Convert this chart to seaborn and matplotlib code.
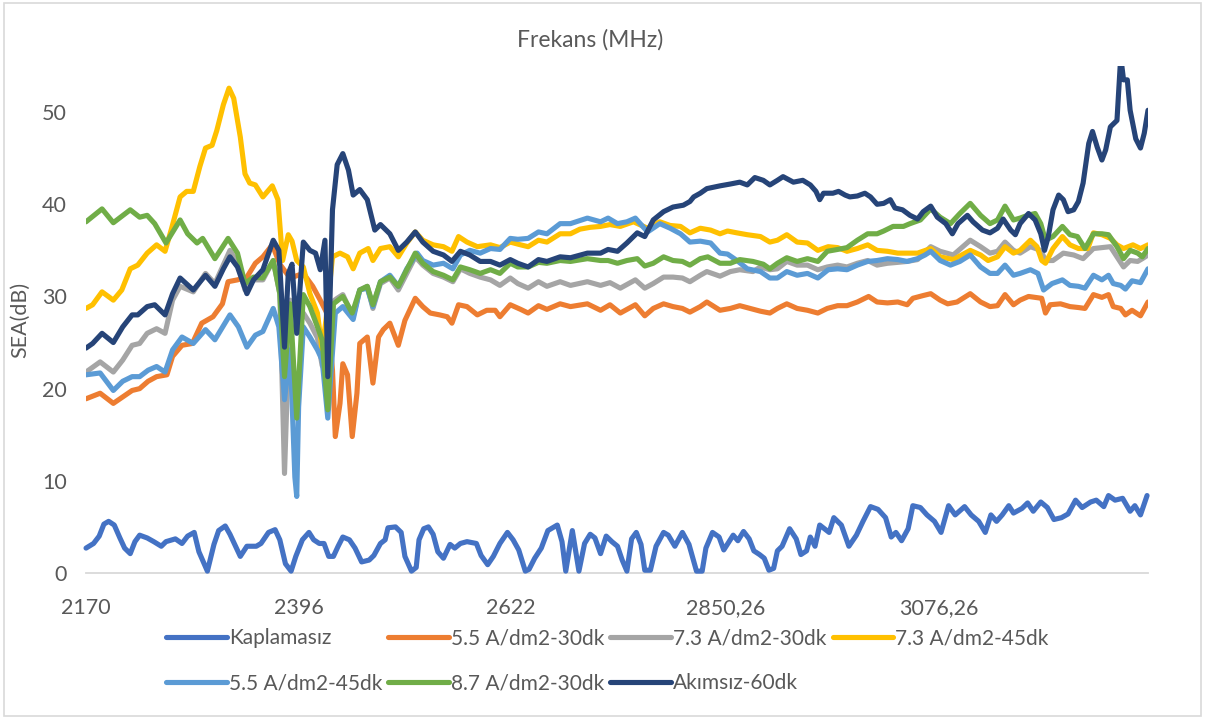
import matplotlib
matplotlib.use("Agg")
import matplotlib.pyplot as plt
import seaborn as sns
from matplotlib.patches import Rectangle

# ---------------- data ----------------
tick_values = [2170, 2396, 2622, 2850.26, 3076.26]
tick_labels = ["2170", "2396", "2622", "2850,26", "3076,26"]

f_kap = [2170,2178,2184,2189,2194,2200,2206,2211,2217,2222,
         2227,2235,2242,2250,2255,2265,2272,2278,2285,2290,
         2299,2306,2311,2318,2323,2328,2334,2341,2351,2356,
         2364,2371,2376,2382,2388,2393,2400,2407,2412,2418,
         2423,2428,2433,2438,2443,2450,2456,2463,2471,2476,
         2483,2488,2491,2499,2505,2509,2516,2521,2524,2529,
         2534,2539,2544,2550,2557,2562,2568,2575,2585,2590,
         2597,2603,2610,2618,2624,2630,2637,2641,2647,2654,
         2661,2671,2676,2680,2687,2694,2700,2706,2711,2717,
         2723,2729,2735,2740,2745,2750,2755,2760,2764,2770,
         2776,2784,2789,2796,2804,2811,2819,2825,2829,2836,
         2843,2848,2858,2863,2869,2875,2880,2886,2891,2896,
         2901,2905,2910,2918,2925,2930,2936,2940,2945,2950,
         2960,2965,2973,2981,2989,2996,3004,3012,3020,3026,
         3031,3037,3044,3049,3057,3064,3072,3079,3087,3094,
         3104,3111,3119,3126,3132,3138,3144,3151,3156,3165,
         3171,3177,3185,3192,3199,3207,3214,3222,3229,3238,
         3244,3252,3257,3264,3272,3280,3285,3291,3298]
v_kap = [2.7,3.2,4.0,5.3,5.6,5.2,3.8,2.7,2.1,3.4,
         4.1,3.8,3.4,2.9,3.4,3.7,3.2,4.0,4.4,2.3,
         0.2,3.1,4.6,5.1,4.2,3.1,1.8,2.9,2.9,3.2,
         4.4,4.7,3.6,1.0,0.2,1.8,3.6,4.4,3.6,3.2,
         3.2,1.8,1.8,2.9,3.9,3.6,2.7,1.2,1.4,1.9,
         3.2,3.6,4.9,5.0,4.4,1.8,0.2,0.6,3.6,4.8,
         5.0,4.2,2.3,1.6,3.1,2.7,3.2,3.4,3.2,1.9,
         0.9,1.8,3.2,4.4,3.6,2.5,0.2,0.4,1.6,2.7,
         4.6,5.2,3.4,0.2,4.6,0.2,3.2,4.2,3.8,2.1,
         4.0,3.4,2.9,1.4,0.2,3.7,4.4,3.1,0.3,0.3,
         2.9,4.4,4.1,2.9,4.4,3.1,0.2,0.2,2.7,4.4,
         3.9,2.5,4.1,3.5,4.5,3.7,2.4,2.0,1.6,0.3,
         0.5,2.4,2.9,4.8,3.7,2.0,2.4,3.9,2.9,5.2,
         4.4,6.0,5.2,2.9,4.1,5.6,7.2,6.9,6.0,3.9,
         4.4,3.5,4.8,7.3,7.1,6.3,5.6,4.4,7.3,6.3,
         7.2,6.3,5.6,4.4,6.3,5.6,6.3,7.3,6.5,7.0,
         7.6,6.7,7.7,7.1,5.8,6.0,6.4,7.9,7.1,7.7,
         7.9,7.2,8.4,7.9,8.1,6.7,7.3,6.3,8.4]

f_55_30 = [2170,2185,2199,2209,2219,2227,2236,2245,2256,2262,
           2272,2283,2293,2305,2315,2321,2331,2341,2350,2358,
           2368,2376,2387,2401,2411,2419,2427,2432,2435,2440,
           2443,2448,2453,2458,2461,2469,2475,2481,2486,2493,
           2502,2509,2520,2528,2536,2546,2554,2559,2566,2575,
           2586,2596,2605,2610,2621,2632,2640,2651,2660,2674,
           2685,2703,2717,2727,2738,2754,2764,2773,2784,2794,
           2804,2812,2823,2830,2844,2855,2865,2876,2887,2897,
           2905,2915,2926,2937,2948,2958,2969,2979,2990,3002,
           3011,3022,3033,3043,3049,3060,3068,3078,3086,3096,
           3110,3121,3131,3139,3147,3156,3163,3172,3179,3186,
           3190,3195,3206,3216,3225,3232,3241,3250,3257,3262,
           3270,3275,3282,3291,3299]
v_55_30 = [18.9,19.5,18.4,19.1,19.8,20.0,20.8,21.3,21.5,23.5,
           24.7,24.9,27.1,27.8,29.2,31.6,31.8,32.1,33.6,34.3,
           35.6,33.5,32.0,32.5,31.1,29.6,28.0,22.0,14.8,18.4,
           22.7,21.5,14.8,19.5,24.9,25.6,20.6,25.6,26.4,27.1,
           24.7,27.4,29.8,28.9,28.2,28.0,27.8,27.1,29.1,28.9,
           28.0,28.5,28.5,27.8,29.1,28.6,28.2,29.0,28.6,29.2,
           28.9,29.2,28.5,29.1,28.2,29.1,27.9,28.7,29.2,28.9,
           28.7,28.3,28.9,29.4,28.5,28.7,29.0,28.7,28.4,28.2,
           28.7,29.2,28.7,28.5,28.2,28.7,29.0,29.0,29.4,30.0,
           29.4,29.3,29.4,29.1,29.8,30.1,30.3,29.6,29.2,29.4,
           30.3,29.4,28.9,29.0,30.2,29.1,29.6,30.0,29.9,29.8,
           28.2,29.1,29.2,28.9,28.8,28.7,30.2,29.9,30.2,28.9,
           28.7,28.0,28.5,27.9,29.4]

f_73_30 = [2170,2185,2199,2209,2219,2227,2235,2245,2254,2262,
           2270,2284,2297,2307,2323,2331,2339,2348,2358,2369,
           2376,2381,2387,2394,2401,2408,2416,2421,2427,2433,
           2437,2443,2454,2461,2469,2475,2483,2493,2502,2511,
           2520,2528,2539,2550,2560,2568,2578,2589,2600,2610,
           2621,2629,2640,2651,2660,2674,2685,2703,2717,2727,
           2738,2754,2764,2773,2784,2794,2804,2812,2823,2830,
           2844,2855,2865,2879,2887,2897,2905,2915,2926,2937,
           2948,2958,2969,2979,2990,3001,3011,3022,3033,3043,
           3054,3068,3078,3092,3110,3121,3131,3139,3147,3156,
           3163,3174,3185,3190,3198,3209,3220,3230,3241,3250,
           3259,3266,3273,3280,3288,3293,3299]
v_73_30 = [21.8,22.9,21.8,23.1,24.7,24.9,26.0,26.5,26.0,29.6,
           31.1,30.5,32.5,31.4,35.0,33.6,30.7,31.8,31.8,33.9,
           30.3,10.8,29.6,28.5,28.2,27.1,25.5,22.5,21.7,29.5,
           29.8,30.2,27.8,30.7,31.1,28.7,31.4,32.0,30.7,32.5,
           34.3,33.4,32.5,32.1,31.6,33.0,32.5,32.1,31.8,31.2,
           32.0,31.4,30.9,31.6,31.1,31.6,31.2,31.6,31.2,31.5,
           30.9,31.8,30.9,31.4,32.1,32.1,32.0,31.6,32.3,32.7,
           32.2,32.7,32.9,32.7,33.2,32.9,33.0,33.8,33.4,33.4,
           32.9,33.2,33.4,33.2,33.6,33.9,33.4,33.6,33.7,33.8,
           34.0,35.4,34.9,34.5,36.1,35.4,34.7,34.9,35.9,35.0,
           34.7,35.4,35.0,33.9,33.9,34.7,34.5,34.1,35.2,35.3,
           35.4,34.3,33.2,33.9,33.8,34.1,34.5]

f_73_45 = [2170,2177,2187,2199,2208,2217,2225,2235,2245,2254,
           2261,2270,2277,2284,2291,2297,2304,2309,2316,2322,
           2327,2334,2339,2344,2350,2358,2368,2374,2379,2385,
           2389,2394,2401,2408,2416,2421,2426,2432,2440,2448,
           2454,2461,2470,2475,2483,2493,2502,2511,2520,2528,
           2539,2550,2559,2566,2575,2586,2600,2610,2621,2632,
           2640,2651,2660,2674,2685,2695,2706,2717,2727,2738,
           2752,2767,2780,2791,2802,2812,2823,2834,2844,2852,
           2862,2873,2887,2897,2905,2915,2926,2937,2948,2959,
           2969,2979,2990,3001,3011,3022,3033,3043,3054,3068,
           3078,3092,3110,3121,3129,3139,3147,3156,3163,3174,
           3181,3186,3190,3198,3208,3216,3225,3235,3241,3250,
           3259,3266,3273,3283,3291,3299]
v_73_45 = [28.7,29.1,30.5,29.6,30.7,33.0,33.4,34.7,35.6,34.9,
           37.4,40.8,41.4,41.4,44.1,46.1,46.4,48.0,50.8,52.6,
           51.5,47.3,43.3,42.3,42.1,40.8,42.0,40.5,33.9,36.7,
           36.0,33.9,33.2,30.3,28.2,24.2,28.2,34.3,34.7,34.3,
           33.0,34.7,35.2,33.9,35.2,35.4,34.3,35.8,37.0,36.1,
           35.6,35.4,34.9,36.5,35.9,35.4,35.6,35.3,35.9,35.6,
           35.4,36.1,35.9,36.8,36.8,37.3,37.5,37.6,37.8,37.6,
           38.1,37.4,38.1,37.7,37.6,36.9,37.4,37.2,36.8,37.1,
           36.9,36.7,36.5,35.9,36.1,36.7,35.9,35.8,35.0,35.4,
           35.3,34.9,35.2,35.6,35.0,34.9,34.7,34.7,34.7,35.2,
           34.3,34.0,35.0,34.5,33.9,34.3,35.4,34.7,35.0,36.1,
           35.4,33.9,33.6,35.2,36.5,35.6,35.2,35.2,36.9,36.7,
           36.3,35.6,35.2,35.6,35.2,35.6]

f_55_45 = [2170,2185,2199,2209,2219,2227,2236,2245,2254,2262,
           2272,2284,2297,2307,2323,2332,2341,2350,2358,2369,
           2375,2381,2387,2392,2394,2396,2401,2408,2416,2421,
           2427,2435,2443,2454,2461,2469,2475,2483,2493,2502,
           2511,2522,2528,2539,2550,2560,2568,2578,2589,2600,
           2610,2621,2629,2640,2651,2660,2674,2685,2703,2717,
           2725,2735,2745,2754,2767,2780,2791,2802,2812,2823,
           2834,2844,2852,2862,2873,2887,2897,2905,2915,2926,
           2937,2948,2959,2969,2979,2990,3001,3011,3022,3033,
           3043,3054,3062,3068,3078,3089,3099,3110,3121,3131,
           3139,3147,3156,3163,3174,3182,3188,3197,3208,3216,
           3225,3232,3241,3250,3257,3262,3270,3275,3282,3291,
           3299]
v_55_45 = [21.5,21.7,19.8,20.8,21.3,21.3,22.0,22.4,21.8,24.2,
           25.6,24.9,26.4,25.3,28.0,26.7,24.5,25.8,26.2,28.7,
           26.7,18.8,24.2,10.4,8.3,18.0,26.7,25.6,24.2,23.1,
           16.8,28.2,28.9,27.5,30.7,30.9,28.9,31.6,32.3,31.1,
           33.0,34.7,33.9,33.4,33.6,33.0,34.5,35.0,34.7,35.2,
           35.1,36.3,36.2,36.3,37.0,36.8,37.9,37.9,38.5,38.1,
           38.5,37.9,38.1,38.5,37.0,37.9,37.4,36.8,35.9,36.0,
           35.8,34.7,34.6,33.9,33.0,32.7,32.0,32.0,32.7,32.3,
           32.5,32.0,32.9,33.0,32.9,33.4,33.8,33.9,34.1,34.0,
           33.8,34.1,34.5,34.9,33.9,33.4,33.8,34.5,33.2,32.5,
           32.5,33.4,32.3,32.5,32.9,32.5,30.7,31.4,31.8,31.2,
           31.1,30.9,32.3,31.8,32.3,31.4,31.2,30.8,31.7,31.5,
           33.0]

f_87_30 = [2170,2187,2199,2217,2227,2235,2243,2255,2270,2278,
           2288,2294,2307,2321,2331,2339,2348,2358,2369,2376,
           2381,2387,2394,2401,2408,2416,2421,2427,2433,2443,
           2453,2461,2469,2475,2483,2493,2502,2511,2520,2528,
           2539,2550,2560,2568,2578,2589,2600,2610,2621,2629,
           2640,2651,2660,2674,2685,2703,2717,2725,2735,2745,
           2756,2764,2773,2784,2794,2804,2812,2823,2831,2844,
           2855,2865,2879,2890,2897,2905,2915,2926,2937,2948,
           2958,2969,2979,2990,3001,3011,3018,3028,3039,3046,
           3057,3068,3078,3089,3099,3110,3121,3131,3139,3147,
           3156,3163,3171,3179,3185,3190,3198,3208,3216,3224,
           3232,3241,3250,3257,3266,3273,3280,3288,3293,3299]
v_87_30 = [38.1,39.5,38.0,39.4,38.6,38.8,37.9,35.8,38.3,36.8,
           35.8,36.3,34.1,36.3,34.7,31.4,32.1,32.0,33.9,30.3,
           21.3,29.2,16.8,30.2,28.9,26.7,25.3,17.7,29.2,30.0,
           28.2,30.7,31.1,29.1,31.6,32.1,31.1,32.9,34.7,33.6,
           32.7,32.3,31.8,33.2,32.9,32.5,32.9,32.5,33.6,33.2,
           33.2,33.7,33.6,33.9,33.8,34.1,33.9,33.9,33.6,33.9,
           34.1,33.3,33.6,34.3,33.9,33.8,33.4,34.1,34.3,33.6,
           33.6,34.0,33.8,33.5,33.0,33.6,34.2,33.8,34.1,33.8,
           34.9,35.1,35.3,36.1,36.8,36.8,37.1,37.6,37.6,37.9,
           38.3,39.5,38.6,37.9,39.0,40.1,38.8,37.9,38.3,39.8,
           38.3,38.5,38.8,39.0,37.9,36.1,36.5,37.6,36.7,36.5,
           35.2,36.8,36.8,36.7,35.4,34.1,35.0,34.7,34.3,35.2]

f_akim = [2170,2177,2187,2199,2209,2219,2225,2235,2243,2254,
          2262,2270,2284,2297,2307,2316,2323,2331,2341,2348,
          2358,2369,2375,2381,2385,2389,2394,2401,2408,2414,
          2419,2424,2427,2432,2437,2443,2449,2454,2461,2469,
          2477,2483,2493,2502,2511,2520,2528,2539,2550,2559,
          2568,2578,2589,2600,2610,2621,2629,2640,2651,2660,
          2674,2685,2703,2717,2725,2735,2745,2756,2764,2773,
          2784,2794,2805,2812,2816,2823,2830,2844,2855,2865,
          2873,2881,2890,2897,2905,2911,2922,2932,2940,2946,
          2950,2954,2964,2970,2977,2982,2990,2998,3004,3011,
          3018,3025,3030,3038,3046,3054,3060,3068,3075,3084,
          3091,3097,3107,3113,3123,3131,3139,3145,3153,3158,
          3163,3172,3179,3185,3189,3193,3198,3204,3209,3214,
          3220,3225,3230,3236,3240,3245,3250,3254,3259,3266,
          3270,3273,3277,3280,3286,3291,3295,3299]
v_akim = [24.4,24.9,26.0,25.0,26.7,28.0,28.0,28.9,29.1,28.0,
          30.3,32.0,30.7,32.3,31.1,33.0,34.3,33.2,30.3,31.8,
          32.9,36.1,35.0,24.5,32.5,33.5,26.0,35.9,35.0,34.7,
          32.9,36.1,21.3,39.4,44.3,45.5,43.7,41.0,41.6,40.5,
          37.2,37.8,36.8,35.0,35.9,37.0,35.9,34.9,34.5,33.8,
          34.9,34.5,33.8,33.8,33.4,34.0,33.6,33.2,34.0,33.8,
          34.3,34.2,34.7,34.7,35.1,34.9,35.8,36.9,36.5,38.3,
          39.2,39.7,39.9,40.3,40.8,41.2,41.7,42.0,42.2,42.4,
          42.1,42.9,42.6,42.1,42.6,43.0,42.4,42.6,42.1,41.4,
          40.5,41.2,41.2,41.4,41.0,40.8,40.9,41.2,40.8,40.0,
          40.1,40.5,39.6,39.4,38.8,38.4,39.2,39.8,38.6,37.9,
          36.8,37.9,38.8,38.1,37.2,36.9,37.4,38.4,37.2,36.7,
          37.9,39.0,38.3,36.8,35.0,36.5,39.4,41.0,40.5,39.2,
          39.4,40.3,42.3,46.6,47.9,46.2,44.8,45.9,48.4,49.1,
          56.0,53.5,53.5,50.2,47.1,46.1,47.7,50.2]

series_names = ["Kaplamasız", "5.5 A/dm2-30dk", "7.3 A/dm2-30dk", "7.3 A/dm2-45dk",
                "5.5 A/dm2-45dk", "8.7 A/dm2-30dk", "Akımsız-60dk"]
series_freqs = [f_kap, f_55_30, f_73_30, f_73_45, f_55_45, f_87_30, f_akim]
series_vals = [v_kap, v_55_30, v_73_30, v_73_45, v_55_45, v_87_30, v_akim]
series_colors = ["#4472C4", "#ED7D31", "#A5A5A5", "#FFC000", "#5B9BD5", "#70AD47", "#264478"]

# ---------------- plotting ----------------
sns.set_theme(style="white")
plt.rcParams["font.family"] = ["Lato", "DejaVu Sans"]
TXT = "#595959"

fig = plt.figure(figsize=(12.05, 7.2), dpi=100)
ax = fig.add_axes([0.0714, 0.2042, 0.8813, 0.7041])

for i, (name, f, v, c) in enumerate(zip(series_names, series_freqs, series_vals, series_colors)):
    n = min(len(f), len(v))
    sns.lineplot(x=f[:n], y=v[:n], ax=ax, color=c, linewidth=3.7, label=name,
                 estimator=None, sort=False, zorder=3 + i,
                 solid_joinstyle="round", solid_capstyle="round",
                 clip_on=(i != 0))

ax.set_xlim(2170, 3299)
ax.set_ylim(0, 55)
ax.set_xticks(tick_values)
ax.set_xticklabels(tick_labels)
ax.set_yticks([0, 10, 20, 30, 40, 50])
ax.tick_params(axis="both", length=0, colors=TXT, labelsize=15.5)
ax.tick_params(axis="y", pad=14)
ax.tick_params(axis="x", pad=18)
for s in ["top", "right", "left"]:
    ax.spines[s].set_visible(False)
ax.spines["bottom"].set_color("#D9D9D9")
ax.spines["bottom"].set_linewidth(1.3)
ax.spines["bottom"].set_zorder(1)
ax.grid(False)
ax.set_xlabel("")
ax.set_ylabel("SEA(dB)", fontsize=15.5, color=TXT)
ax.yaxis.set_label_coords(-0.053, 0.5)

fig.text(0.49, 0.944, "Frekans (MHz)", ha="center", va="center", fontsize=16.5, color=TXT)

handles, labels = ax.get_legend_handles_labels()
ax.legend_.remove()
order = [0, 4, 1, 5, 2, 6, 3]
fig.legend([handles[k] for k in order], [labels[k] for k in order],
           loc="center", bbox_to_anchor=(0.504, 0.082), ncol=4, frameon=False,
           fontsize=15, handlelength=2.9, handletextpad=0.1, columnspacing=0.3,
           labelspacing=1.2, labelcolor=TXT)

fig.patches.append(Rectangle((0.003, 0.006), 0.994, 0.99, transform=fig.transFigure,
                             fill=False, edgecolor="#D9D9D9", linewidth=1.2))

fig.savefig("out.png", dpi=100)
